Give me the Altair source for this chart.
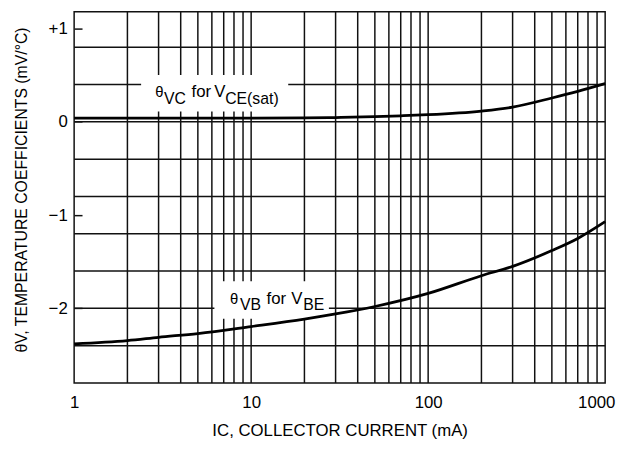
import altair as alt
import pandas as pd

# ---- data ----
ic_vce = [1, 2, 5, 10, 20, 30, 50, 70, 100, 200, 300, 500, 700, 1000]
theta_vce = [0.04, 0.04, 0.04, 0.04, 0.042, 0.046, 0.055, 0.065, 0.077, 0.116, 0.158, 0.256, 0.327, 0.41]

ic_vbe = [1, 2, 3, 5, 10, 20, 30, 50, 100, 200, 300, 500, 700, 1000]
theta_vbe = [-2.38, -2.345, -2.31, -2.27, -2.195, -2.115, -2.06, -1.98, -1.84, -1.65, -1.55, -1.38, -1.25, -1.07]

x_grid = [2, 3, 4, 5, 6, 7, 8, 9, 10, 20, 30, 40, 50, 60, 70, 80, 90, 100,
          200, 300, 400, 500, 600, 700, 800, 900]
y_grid = [-2.4, -2.0, -1.6, -1.2, -0.8, -0.4, 0.0, 0.4, 0.8]
x_ticks = [1, 10, 100, 1000]
y_ticks = [-2, -1, 0, 1]

# annotation label pieces (data coordinates)
lab_x = [2.87, 3.218, 4.609, 6.193, 7.132, 7.60, 8.65, 12.23, 16.86, 19.67]
lab_y = [0.27, 0.196, 0.27, 0.27, 0.196, -1.953, -2.017, -1.953, -1.953, -2.017]
lab_text = ["θ", "VC", "for", "V", "CE(sat)", "θ", "VB", "for", "V", "BE"]
lab_size = [15, 16, 17, 17, 16, 15, 16, 17, 17, 16]

# white backgrounds behind the annotations (data coordinates)
mask_x1 = [2.39, 6.2]
mask_x2 = [16.2, 27.5]
mask_y1 = [0.503, -1.71]
mask_y2 = [0.111, -2.112]

FONT = "Liberation Sans, Arial, sans-serif"
INK = "#111111"

xs = alt.Scale(type="log", domain=[1, 1000])
ys = alt.Scale(domain=[-2.8, 1.18])

x_axis = alt.Axis(values=x_ticks, format="d", grid=False, ticks=False, tickSize=0,
                  domain=False, labelFont=FONT, labelFontSize=17, labelColor="#000",
                  labelPadding=12, labelFlush=False, labelOverlap=False,
                  labelOffset=alt.condition("datum.value == 1000", alt.value(-9), alt.value(0)),
                  title="IC, COLLECTOR CURRENT (mA)", titleFont=FONT, titleFontSize=17,
                  titleFontWeight="normal", titleColor="#000", titlePadding=12)
y_axis = alt.Axis(values=y_ticks, grid=False, ticks=True, tickSize=8, tickColor=INK,
                  tickWidth=1.5, offset=-8, domain=False, labelFont=FONT,
                  labelFontSize=17, labelColor="#000", labelPadding=7,
                  labelExpr="datum.value > 0 ? '+' + datum.label : datum.label",
                  title="θV, TEMPERATURE COEFFICIENTS (mV/°C)", titleFont=FONT,
                  titleFontSize=16, titleFontWeight="normal", titleColor="#000",
                  titlePadding=19, titleY=180)

def X(field):
    return alt.X(field, type="quantitative", scale=xs, axis=x_axis)

def Y(field):
    return alt.Y(field, type="quantitative", scale=ys, axis=y_axis)

vgrid = alt.Chart(pd.DataFrame({"x": x_grid})).mark_rule(
    color=INK, strokeWidth=1.5).encode(x=X("x"))
hgrid = alt.Chart(pd.DataFrame({"y": y_grid})).mark_rule(
    color=INK, strokeWidth=1.5).encode(y=Y("y"))

masks = alt.Chart(pd.DataFrame({"x1": mask_x1, "x2": mask_x2,
                                "y1": mask_y1, "y2": mask_y2})).mark_rect(
    color="white", opacity=1).encode(x=X("x1"), x2="x2", y=Y("y1"), y2="y2")

curves_df = pd.concat([
    pd.DataFrame({"ic": ic_vce, "theta": theta_vce, "series": "vce"}),
    pd.DataFrame({"ic": ic_vbe, "theta": theta_vbe, "series": "vbe"}),
])
curves = alt.Chart(curves_df).mark_line(
    color="#000", strokeWidth=2.8, interpolate="monotone").encode(
    x=X("ic"), y=Y("theta"), detail="series:N")

labels = alt.Chart(pd.DataFrame({"x": lab_x, "y": lab_y, "t": lab_text,
                                 "s": lab_size})).mark_text(
    align="left", baseline="alphabetic", font=FONT, color="#000").encode(
    x=X("x"), y=Y("y"), text="t:N", size=alt.Size("s:Q", scale=None))

chart = alt.layer(vgrid, hgrid, masks, curves, labels).properties(
    width=538, height=376,
    autosize=alt.AutoSizeParams(type="none"),
    padding={"left": 67, "top": 1, "right": 12, "bottom": 60},
    background="white",
).configure_view(stroke=INK, strokeWidth=1.5)

chart.save("out.html", embed_options={"renderer": "svg", "actions": False})
